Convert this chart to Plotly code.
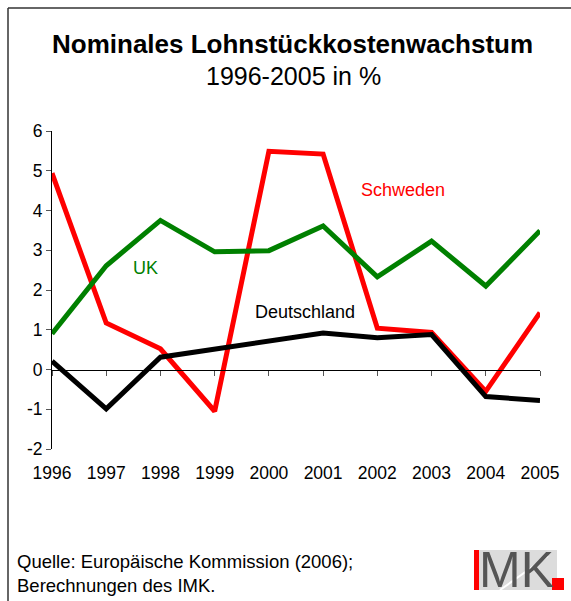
import plotly.graph_objects as go

years = [1996, 1997, 1998, 1999, 2000, 2001, 2002, 2003, 2004, 2005]
deutschland = [0.21, -0.99, 0.31, 0.52, 0.72, 0.92, 0.80, 0.88, -0.68, -0.78]
uk = [0.90, 2.61, 3.75, 2.96, 2.99, 3.61, 2.33, 3.23, 2.10, 3.49]
schweden = [4.94, 1.17, 0.52, -1.05, 5.49, 5.42, 1.04, 0.93, -0.55, 1.43]
y_ticks = [-2, -1, 0, 1, 2, 3, 4, 5, 6]

FONT = "Liberation Sans, Arial, sans-serif"

# plot area in pixels
L, R, T, B = 52, 540, 131, 449
W, H = 571, 601
pw, ph = R - L, B - T


def px(x):
    return (x - L) / pw


def py(y):
    return (B - y) / ph


fig = go.Figure()
fig.add_trace(go.Scatter(x=years, y=schweden, mode="lines", line=dict(color="#ff0000", width=5), name="Schweden"))
fig.add_trace(go.Scatter(x=years, y=uk, mode="lines", line=dict(color="#008000", width=5), name="UK"))
fig.add_trace(go.Scatter(x=years, y=deutschland, mode="lines", line=dict(color="#000000", width=5), name="Deutschland"))
# invisible trace to activate xaxis2 (axis line at zero with ticks)
fig.add_trace(go.Scatter(x=years, y=deutschland, xaxis="x2", mode="lines", line=dict(width=0), hoverinfo="skip", showlegend=False, opacity=0))

zero_pos = (0 - (-2)) / (6 - (-2))

fig.update_layout(
    width=W, height=H,
    margin=dict(l=L, r=W - R, t=T, b=H - B),
    paper_bgcolor="white", plot_bgcolor="white",
    showlegend=False,
    font=dict(family=FONT, size=17.5, color="black"),
    xaxis=dict(range=[1996, 2005], tickmode="array", tickvals=years, ticktext=[str(y) for y in years],
               showline=False, showgrid=False, zeroline=False, ticks="outside", ticklen=8,
               tickcolor="rgba(0,0,0,0)", tickfont=dict(size=17.5, family=FONT)),
    xaxis2=dict(range=[1996, 2005], overlaying="x", anchor="free", position=zero_pos,
                tickmode="array", tickvals=years, showticklabels=False, showline=True,
                linecolor="black", linewidth=1, ticks="outside", ticklen=5, tickcolor="#555",
                showgrid=False, zeroline=False),
    yaxis=dict(range=[-2, 6], tickmode="array", tickvals=y_ticks, ticktext=[str(v) for v in y_ticks],
               showline=True, linecolor="black", linewidth=1, ticks="outside", ticklen=5, tickcolor="#555",
               showgrid=False, zeroline=False, tickfont=dict(size=17.5, family=FONT)),
)

annotations = [
    dict(text="<b>Nominales Lohnstückkostenwachstum</b>", x=px(292), y=py(44), font=dict(size=26)),
    dict(text="1996-2005 in %", x=px(293), y=py(76), font=dict(size=25)),
    dict(text="Quelle: Europäische Kommission (2006);<br>Berechnungen des IMK.", x=px(15), y=py(573),
         xanchor="left", align="left", font=dict(size=18.5)),
    dict(text="MK", x=px(516), y=py(570), font=dict(size=50, color="#555555")),
]
for a in annotations:
    a.setdefault("xanchor", "center")
    fig.add_annotation(xref="paper", yref="paper", yanchor="middle", showarrow=False, **a)

fig.add_annotation(x=2002.48, y=4.52, text="Schweden", showarrow=False, font=dict(color="#ff0000", size=18))
fig.add_annotation(x=1997.72, y=2.55, text="UK", showarrow=False, font=dict(color="#008000", size=18))
fig.add_annotation(x=2000.67, y=1.44, text="Deutschland", showarrow=False, font=dict(color="black", size=18))

shapes = [
    # frame
    dict(type="line", x0=px(8), x1=px(8), y0=py(8), y1=py(601), line=dict(color="#333", width=1.5)),
    dict(type="line", x0=px(8), x1=px(571), y0=py(8), y1=py(8), line=dict(color="#333", width=1.5)),
    # logo
    dict(type="rect", x0=px(479), x1=px(557), y0=py(590), y1=py(550), fillcolor="#dcdcdc", line=dict(width=0), layer="below"),
    dict(type="line", x0=px(500), x1=px(548), y0=py(590), y1=py(556), line=dict(color="white", width=2), layer="below"),
    dict(type="rect", x0=px(474), x1=px(479), y0=py(590), y1=py(550), fillcolor="#ff0000", line=dict(width=0)),
    dict(type="rect", x0=px(552), x1=px(564), y0=py(590), y1=py(578), fillcolor="#ff0000", line=dict(width=0)),
]
for s in shapes:
    fig.add_shape(xref="paper", yref="paper", **s)

fig.write_html("out.html", config={"displayModeBar": False},
               post_script="document.body.style.margin='0px';document.body.style.overflow='hidden';")
